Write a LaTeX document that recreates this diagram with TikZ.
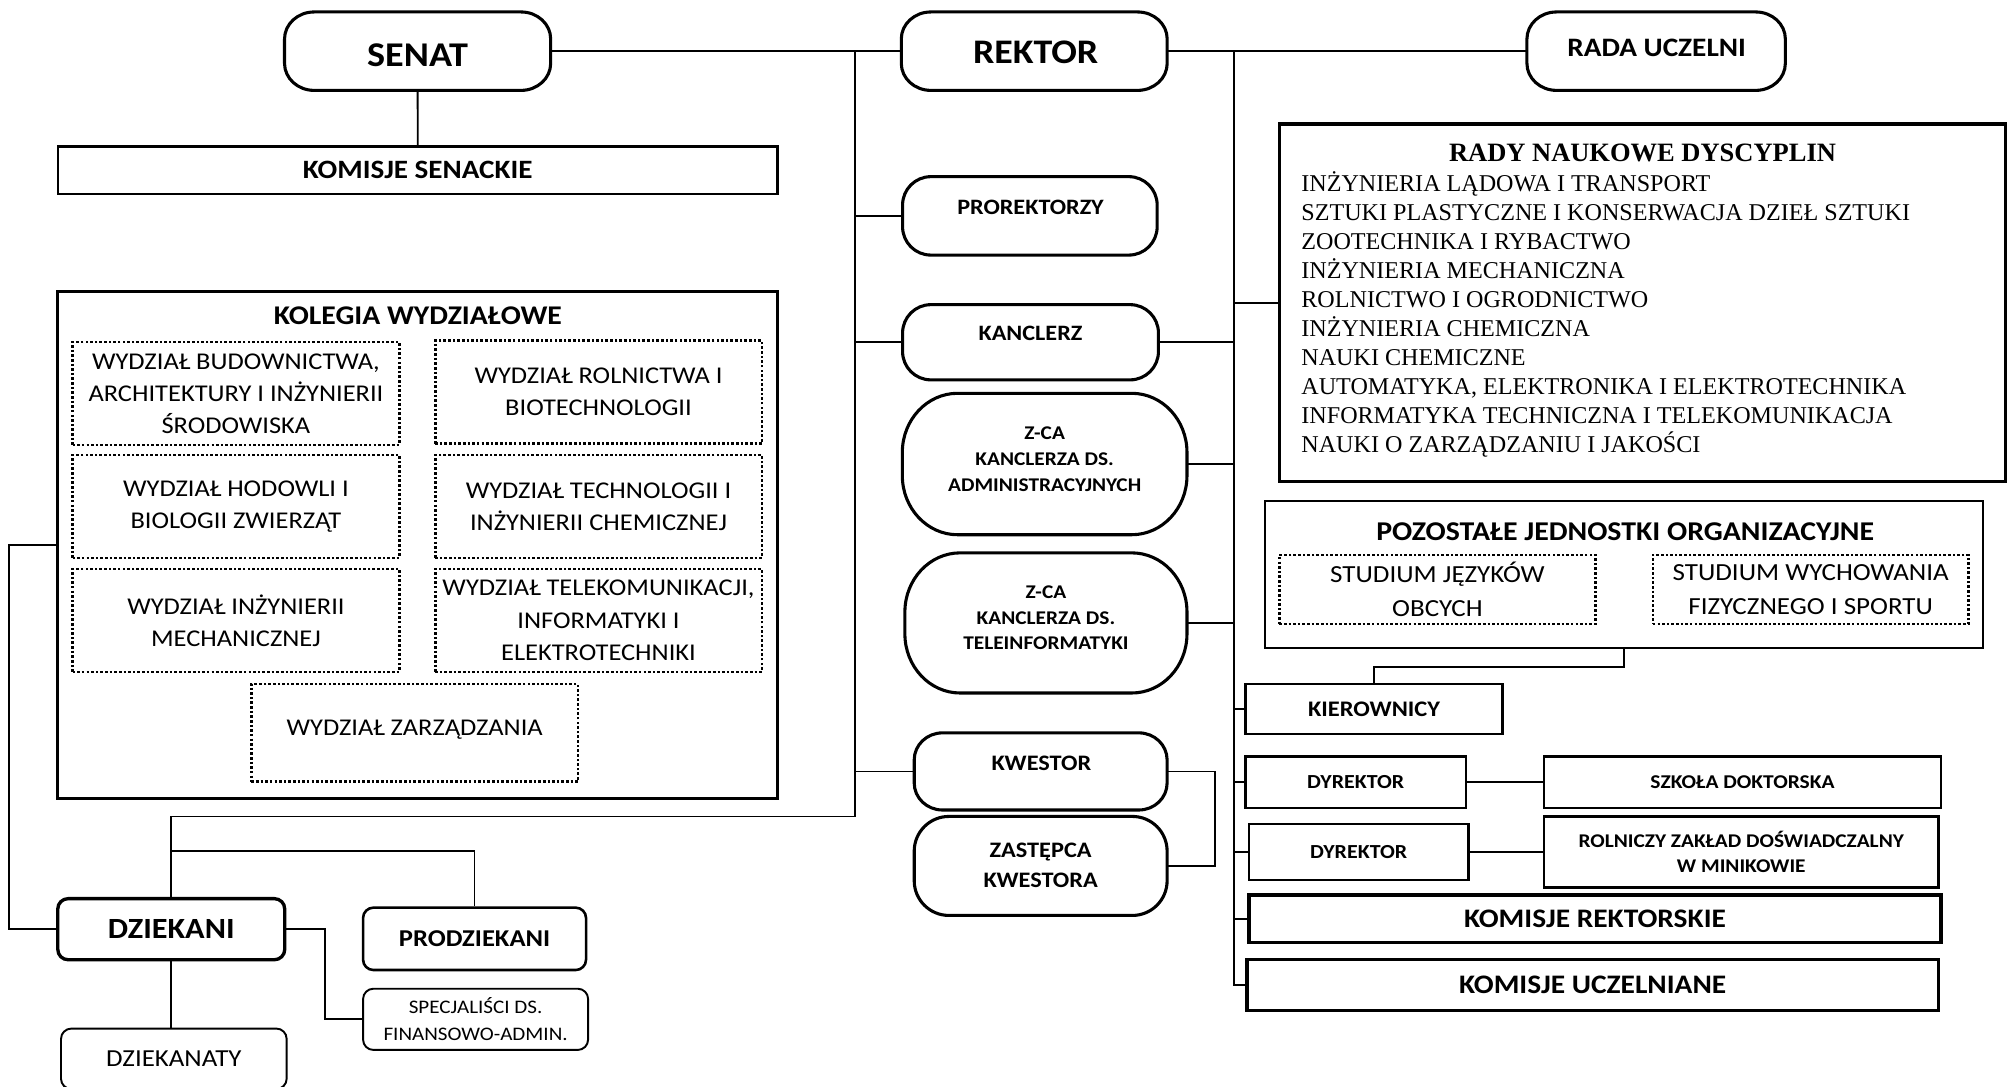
\documentclass[tikz,border=0pt]{standalone}
\usepackage{fontspec}
\setmainfont{Carlito}[FakeStretch=1.1]
\newfontfamily\tnr{Liberation Serif}
\newcommand\fsz[2]{\fontsize{#1}{#2}\selectfont}
% rounded outline around a named (empty) node: name, rx, ry
\newcommand\pillshape[3]{%
  \draw[pillline] ([xshift=#2]#1.north west) -- ([xshift=-#2]#1.north east)
    arc[start angle=90,end angle=0,x radius=#2,y radius=#3]
    -- ([yshift=#3]#1.south east)
    arc[start angle=0,end angle=-90,x radius=#2,y radius=#3]
    -- ([xshift=#2]#1.south west)
    arc[start angle=-90,end angle=-180,x radius=#2,y radius=#3]
    -- ([yshift=-#3]#1.north west)
    arc[start angle=180,end angle=90,x radius=#2,y radius=#3] -- cycle;}
\tikzset{
  pillnode/.style={inner sep=0pt, outer sep=0pt},
  ptext/.style={inner sep=0pt, align=center},
  pillline/.style={line width=2.4pt},
  conn/.style={line width=1.4pt},
  sqbox/.style={draw, line width=1.9pt, inner sep=0pt, align=center},
  thickbox/.style={draw, line width=2.6pt, inner sep=0pt, align=center},
  dotbox/.style={draw, line width=2pt, dash pattern=on 2pt off 1.6pt, inner sep=0pt, align=center},
  rbox/.style={draw, rounded corners=8pt, inner sep=0pt, align=center},
}
\begin{document}
\begin{tikzpicture}[x=1pt,y=-1pt]
\useasboundingbox[fill=white] (0,0) rectangle (1568,845.4);

% ---------- top row ----------
\node[pillnode, minimum width=207pt, minimum height=61pt] (senat) at (324.8,39.8) {};
\node[pillnode, minimum width=206.8pt, minimum height=61pt] (rektor) at (804.4,39.8) {};
\node[pillnode, minimum width=201pt, minimum height=61pt] (rada) at (1288.1,39.8) {};
\pillshape{senat}{23pt}{21pt}
\pillshape{rektor}{23pt}{21pt}
\pillshape{rada}{23pt}{21pt}
\node[ptext, font=\fsz{27}{30}\bfseries] (senatT) at (324.8,42.8) {SENAT};
\node[ptext, font=\fsz{26.8}{30}\bfseries] (rektorT) at (805.5,40.5) {REKTOR};
\node[ptext, font=\fsz{20.7}{24}\bfseries] (radaT) at (1288.5,37.5) {RADA UCZELNI};

\node[sqbox, minimum width=559.7pt, minimum height=37pt, font=\fsz{20.6}{24}\bfseries] (komsen) at (324.9,132.5) {KOMISJE SENACKIE};

% ---------- rady naukowe ----------
\node[thickbox, minimum width=565pt, minimum height=278pt] (rady) at (1277.5,235.5) {};
\node[font=\tnr\bfseries\fsz{20.6}{24}, inner sep=0pt] (radyT) at (1277.5,119) {RADY NAUKOWE DYSCYPLIN};
\foreach \t [count=\i] in {INŻYNIERIA LĄDOWA I TRANSPORT,
  SZTUKI PLASTYCZNE I KONSERWACJA DZIEŁ SZTUKI,
  ZOOTECHNIKA I RYBACTWO,
  INŻYNIERIA MECHANICZNA,
  ROLNICTWO I OGRODNICTWO,
  INŻYNIERIA CHEMICZNA,
  NAUKI CHEMICZNE,
  AUTOMATYKA{,} ELEKTRONIKA I ELEKTROTECHNIKA,
  INFORMATYKA TECHNICZNA I TELEKOMUNIKACJA,
  NAUKI O ZARZĄDZANIU I JAKOŚCI}
  \node[font=\tnr\fsz{18.75}{22}, inner sep=0pt, anchor=base west] (rl\i) at (1012,{148.8+22.6*(\i-1)}) {\t};

% ---------- middle column ----------
\node[pillnode, minimum width=198pt, minimum height=61pt] (prorektorzy) at (801,167.9) {};
\node[pillnode, minimum width=199pt, minimum height=58.5pt] (kanclerz) at (801.5,266.2) {};
\node[pillnode, minimum width=221.4pt, minimum height=110pt] (zca1) at (812.5,360.9) {};
\node[pillnode, minimum width=219.4pt, minimum height=109pt] (zca2) at (813.5,484.5) {};
\node[pillnode, minimum width=196.7pt, minimum height=60pt] (kwestor) at (809.4,600) {};
\node[pillnode, minimum width=196.7pt, minimum height=77pt] (zast) at (809.4,673.5) {};
\pillshape{prorektorzy}{22pt}{22pt}
\pillshape{kanclerz}{22pt}{22pt}
\pillshape{zca1}{43pt}{46pt}
\pillshape{zca2}{43pt}{46pt}
\pillshape{kwestor}{22pt}{21pt}
\pillshape{zast}{27pt}{27pt}
\node[ptext, font=\fsz{17.1}{20}\bfseries] (prorektorzyT) at (801.5,161.4) {PROREKTORZY};
\node[ptext, font=\fsz{17.1}{20}\bfseries] (kanclerzT) at (801.5,259.5) {KANCLERZ};
\node[ptext, font=\fsz{15.1}{20}\bfseries] (zca1T) at (812.5,357) {Z-CA\\KANCLERZA DS.\\ADMINISTRACYJNYCH};
\node[ptext, font=\fsz{15.1}{20}\bfseries] (zca2T) at (813.5,480.5) {Z-CA\\KANCLERZA DS.\\TELEINFORMATYKI};
\node[ptext, font=\fsz{17.2}{23}\bfseries] (kwestorT) at (810,594) {KWESTOR};
\node[ptext, font=\fsz{17.2}{23}\bfseries] (zastT) at (809.4,673) {ZASTĘPCA\\KWESTORA};

% ---------- kolegia ----------
\node[draw, line width=2.2pt, inner sep=0pt, minimum width=560pt, minimum height=394pt] (kolegia) at (325,424) {};
\node[font=\fsz{21}{24}\bfseries, inner sep=0pt] (kolT) at (325,245.7) {KOLEGIA WYDZIAŁOWE};
\tikzset{fac/.style={dotbox, minimum width=254pt, minimum height=80pt, font=\fsz{18.7}{25}}}
\node[fac] (fb1) at (183.5,306) {WYDZIAŁ BUDOWNICTWA,\\ARCHITEKTURY I INŻYNIERII\\ŚRODOWISKA};
\node[fac] (fb2) at (465.5,305) {WYDZIAŁ ROLNICTWA I\\BIOTECHNOLOGII};
\node[fac] (fb3) at (183.5,394) {WYDZIAŁ HODOWLI I\\BIOLOGII ZWIERZĄT};
\node[fac] (fb4) at (465.5,394) {WYDZIAŁ TECHNOLOGII I\\INŻYNIERII CHEMICZNEJ};
\node[fac] (fb5) at (183.5,482.5) {WYDZIAŁ INŻYNIERII\\MECHANICZNEJ};
\node[fac] (fb6) at (465.5,482.5) {WYDZIAŁ TELEKOMUNIKACJI,\\INFORMATYKI I\\ELEKTROTECHNIKI};
\node[fac, minimum height=76pt] (fb7) at (322.5,570) {};
\node[font=\fsz{18.7}{25}, inner sep=0pt, anchor=base] (fb7T) at (322.5,571.8) {WYDZIAŁ ZARZĄDZANIA};

% ---------- deans ----------
\node[rbox, line width=2.6pt, minimum width=176.5pt, minimum height=47.5pt, font=\fsz{22.8}{26}\bfseries] (dziekani) at (133.2,722.7) {DZIEKANI};
\node[rbox, line width=2pt, minimum width=173.4pt, minimum height=48.5pt, font=\fsz{18.8}{22}\bfseries] (prodziekani) at (369.1,730.2) {PRODZIEKANI};
\node[rbox, line width=1.5pt, minimum width=175pt, minimum height=47.6pt, font=\fsz{14.9}{21}] (spec) at (369.9,792.8) {SPECJALIŚCI DS.\\FINANSOWO-ADMIN.};
\node[rbox, line width=1.5pt, minimum width=175.5pt, minimum height=47pt, font=\fsz{19}{22}] (dziekanaty) at (135.2,823.5) {DZIEKANATY};

% ---------- right column ----------
\node[draw, line width=1.6pt, inner sep=0pt, minimum width=559pt, minimum height=114.7pt] (pozo) at (1263.1,446.7) {};
\node[font=\fsz{21.1}{24}\bfseries, inner sep=0pt] (pozT) at (1264,413.4) {POZOSTAŁE JEDNOSTKI ORGANIZACYJNE};
\node[dotbox, minimum width=246pt, minimum height=53.7pt, font=\fsz{19.1}{26}] (sjo) at (1118,458.5) {STUDIUM JĘZYKÓW\\OBCYCH};
\node[dotbox, minimum width=245.5pt, minimum height=53.7pt, font=\fsz{19.1}{26}] (swf) at (1408.3,458.5) {STUDIUM WYCHOWANIA\\FIZYCZNEGO I SPORTU};

\node[sqbox, minimum width=199.9pt, minimum height=39pt, font=\fsz{17.3}{20}\bfseries] (kier) at (1068.7,551.5) {KIEROWNICY};
\node[sqbox, minimum width=171.2pt, minimum height=40pt, font=\fsz{15.5}{18}\bfseries] (dyr1) at (1054.4,608.5) {DYREKTOR};
\node[sqbox, minimum width=308.6pt, minimum height=40pt, font=\fsz{15.2}{18}\bfseries] (szkola) at (1355.3,608.5) {SZKOŁA DOKTORSKA};
\node[sqbox, minimum width=170.7pt, minimum height=43.6pt, font=\fsz{15.5}{18}\bfseries] (dyr2) at (1056.7,662.6) {DYREKTOR};
\node[sqbox, minimum width=306.5pt, minimum height=55pt, font=\fsz{15.1}{20}\bfseries] (roln) at (1354.3,662.6) {ROLNICZY ZAKŁAD DOŚWIADCZALNY\\W MINIKOWIE};
\node[thickbox, minimum width=538.3pt, minimum height=37pt, font=\fsz{20.8}{24}\bfseries] (komrek) at (1240.5,714.5) {KOMISJE REKTORSKIE};
\node[thickbox, minimum width=537.7pt, minimum height=39.5pt, font=\fsz{20.8}{24}\bfseries] (komucz) at (1238.7,766.2) {KOMISJE UCZELNIANE};

% ---------- connectors ----------
\coordinate (L1) at (665,39.8);
\coordinate (L2) at (665,635);
\coordinate (R1) at (960,39.8);
\coordinate (D1) at (133.2,662);
\draw[conn] (senat.east) -- (rektor.west);
\draw[conn] (rektor.east) -- (rada.west);
\draw[conn] (senat.south) -- (komsen.north);
\draw[conn] (L1) -- (L2) -| (dziekani.north);
\draw[conn] (D1) -| (prodziekani.north);
\foreach \n in {prorektorzy,kanclerz,kwestor}
  \draw[conn] (\n.west) -- (\n.west -| L1);
\draw[conn] (R1) |- (komucz.west);
\foreach \n in {kier,dyr1,dyr2,komrek,rady}
  \draw[conn] (\n.west) -- (\n.west -| R1);
\foreach \n in {kanclerz,zca1,zca2}
  \draw[conn] (\n.east) -- (\n.east -| R1);
\draw[conn] (kwestor.east) -- ++(37,0) |- (zast.east);
\draw[conn] (dyr1.east) -- (szkola.west);
\draw[conn] (dyr2.east) -- (roln.west);
\draw[conn] (pozo.south) -- ++(0,14) -| (kier.north);
\draw[conn] (kolegia.west) -- ++(-37,0) |- (dziekani.west);
\draw[conn] (dziekani.east) -- ++(30,0) |- (spec.west);
\draw[conn] (dziekani.south) -- (dziekani.south |- dziekanaty.north);
\end{tikzpicture}
\end{document}
